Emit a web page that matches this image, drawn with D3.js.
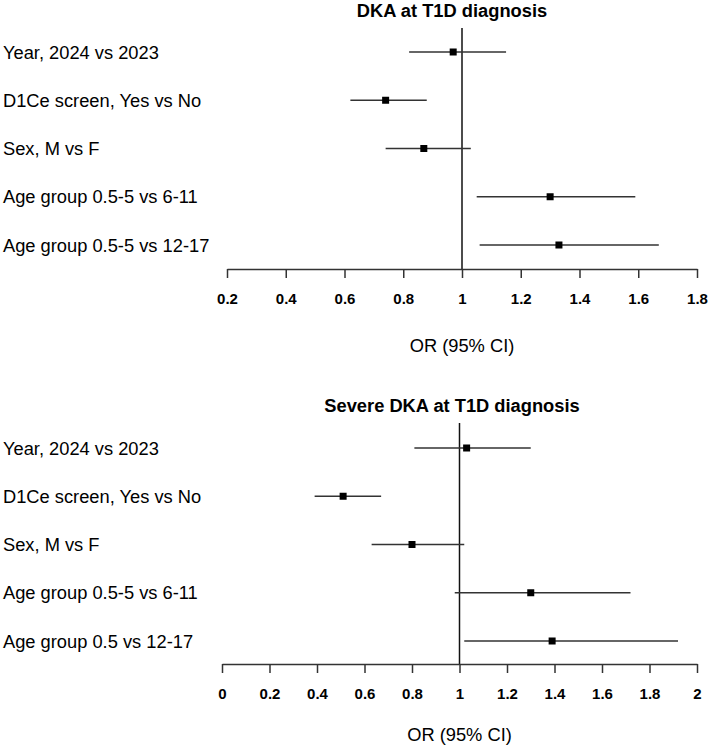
<!DOCTYPE html>
<html>
<head>
<meta charset="utf-8">
<script src="https://cdn.jsdelivr.net/npm/d3@7"></script>
<style>
  body { margin: 0; background: #fff; }
  text { font-family: "Liberation Sans", Arial, sans-serif; fill: #000; }
</style>
</head>
<body>
<svg></svg>
<script>
// forest plots: odds ratios with 95% CI

var labelsTop = ["Year, 2024 vs 2023", "D1Ce screen, Yes vs No", "Sex, M vs F",
                 "Age group 0.5-5 vs 6-11", "Age group 0.5-5 vs 12-17"];
var labelsBottom = ["Year, 2024 vs 2023", "D1Ce screen, Yes vs No", "Sex, M vs F",
                    "Age group 0.5-5 vs 6-11", "Age group 0.5 vs 12-17"];

// DKA at T1D diagnosis
var orTop    = [0.97, 0.74, 0.87, 1.30, 1.33];
var lowerTop = [0.82, 0.62, 0.74, 1.05, 1.06];
var upperTop = [1.15, 0.88, 1.03, 1.59, 1.67];
var ticksTop = [0.2, 0.4, 0.6, 0.8, 1, 1.2, 1.4, 1.6, 1.8];

// Severe DKA at T1D diagnosis
var orBottom    = [1.03, 0.51, 0.80, 1.30, 1.39];
var lowerBottom = [0.81, 0.39, 0.63, 0.98, 1.02];
var upperBottom = [1.30, 0.67, 1.02, 1.72, 1.92];
var ticksBottom = [0, 0.2, 0.4, 0.6, 0.8, 1, 1.2, 1.4, 1.6, 1.8, 2];

var svg = d3.select("svg")
    .attr("width", 709)
    .attr("height", 750);

function forest(o) {
  var g = svg.append("g");

  var x = d3.scaleLinear()
      .domain([o.ticks[0], o.ticks[o.ticks.length - 1]])
      .range([o.x0, o.x1]);

  var y = d3.scalePoint()
      .domain(o.labels)
      .range([o.yTop, o.yBottom]);

  // title
  g.append("text")
      .attr("x", 452)
      .attr("y", o.titleY)
      .attr("text-anchor", "middle")
      .style("font-size", "18.3px")
      .style("font-weight", "bold")
      .text(o.title);

  // row labels
  g.selectAll(".lab")
    .data(o.labels)
    .enter().append("text")
      .attr("x", 3)
      .attr("y", function(d) { return y(d); })
      .attr("dy", "0.36em")
      .style("font-size", "18.3px")
      .text(function(d) { return d; });

  // null line at OR = 1
  g.append("line")
      .attr("x1", x(1)).attr("x2", x(1))
      .attr("y1", o.lineTop).attr("y2", o.axisY)
      .style("stroke", "#111")
      .style("stroke-width", "1.5px");

  var rows = o.labels.map(function(d, i) {
    return { label: d, or: o.or[i], lo: o.lo[i], hi: o.hi[i] };
  });

  // CI whiskers
  g.selectAll(".ci")
    .data(rows)
    .enter().append("line")
      .attr("x1", function(d) { return x(d.lo); })
      .attr("x2", function(d) { return x(d.hi); })
      .attr("y1", function(d) { return y(d.label); })
      .attr("y2", function(d) { return y(d.label); })
      .style("stroke", "#333")
      .style("stroke-width", "1.4px");

  // point estimates
  g.selectAll(".pt")
    .data(rows)
    .enter().append("rect")
      .attr("x", function(d) { return x(d.or) - 3.5; })
      .attr("y", function(d) { return y(d.label) - 3.5; })
      .attr("width", 7)
      .attr("height", 7)
      .style("fill", "#000");

  // x axis
  var axis = g.append("g")
      .attr("transform", "translate(0," + o.axisY + ")")
      .call(d3.axisBottom(x)
        .tickValues(o.ticks)
        .tickFormat(d3.format("~g"))
        .tickSize(9)
        .tickSizeOuter(0)
        .tickPadding(15));
  axis.select(".domain").style("stroke", "#333").style("stroke-width", "1.5px");
  axis.selectAll(".tick line").style("stroke", "#333").style("stroke-width", "1.5px");
  axis.selectAll(".tick text")
      .style("font-size", "15px")
      .style("font-weight", "bold")
      .style("font-family", "'Liberation Sans', Arial, sans-serif")
      .style("fill", "#000");

  // axis title
  g.append("text")
      .attr("x", (o.x0 + o.x1) / 2)
      .attr("y", o.orY)
      .attr("text-anchor", "middle")
      .style("font-size", "18.3px")
      .text("OR (95% CI)");
}

forest({
  title: "DKA at T1D diagnosis", titleY: 16.5,
  labels: labelsTop, or: orTop, lo: lowerTop, hi: upperTop, ticks: ticksTop,
  x0: 227, x1: 697, yTop: 52, yBottom: 245,
  lineTop: 28, axisY: 269, orY: 351.5
});

forest({
  title: "Severe DKA at T1D diagnosis", titleY: 411.5,
  labels: labelsBottom, or: orBottom, lo: lowerBottom, hi: upperBottom, ticks: ticksBottom,
  x0: 222, x1: 697, yTop: 448, yBottom: 641,
  lineTop: 423, axisY: 664, orY: 740.5
});
</script>
</body>
</html>
